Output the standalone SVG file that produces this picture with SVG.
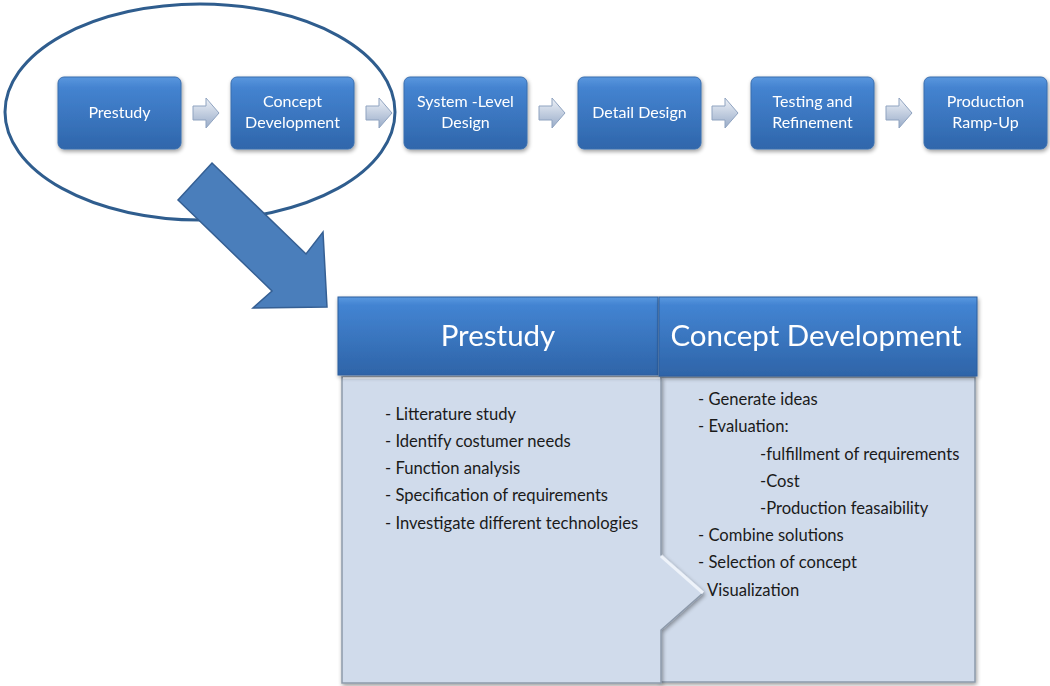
<svg xmlns="http://www.w3.org/2000/svg" width="1050" height="686" viewBox="0 0 1050 686">
<defs>
<linearGradient id="gBox" x1="0" y1="0" x2="0" y2="1">
<stop offset="0" stop-color="#5a97de"/>
<stop offset="0.15" stop-color="#4483d0"/>
<stop offset="1" stop-color="#2f66ab"/>
</linearGradient>
<linearGradient id="gHead" x1="0" y1="0" x2="0" y2="1">
<stop offset="0" stop-color="#5b99e0"/>
<stop offset="0.1" stop-color="#4384d2"/>
<stop offset="1" stop-color="#2e64a8"/>
</linearGradient>
<linearGradient id="gSmall" x1="0" y1="0" x2="0" y2="1">
<stop offset="0" stop-color="#eef2f8"/>
<stop offset="1" stop-color="#98abc8"/>
</linearGradient>
<filter id="sh" x="-10%" y="-10%" width="130%" height="130%">
<feGaussianBlur in="SourceAlpha" stdDeviation="2"/>
<feOffset dx="1" dy="2" result="b"/>
<feComponentTransfer><feFuncA type="linear" slope="0.4"/></feComponentTransfer>
<feMerge><feMergeNode/><feMergeNode in="SourceGraphic"/></feMerge>
</filter>
</defs>
<style>
.box{fill:url(#gBox);stroke:#3b6fae;stroke-width:1}
.bt{font-family:Lato,"Liberation Sans",sans-serif;font-size:16px;fill:#ffffff;text-anchor:middle}
.sa{fill:url(#gSmall);stroke:#8fa3c0;stroke-width:1}
.head{fill:url(#gHead);stroke:#2d5f9e;stroke-width:1}
.ht{font-family:Lato,"Liberation Sans",sans-serif;font-size:29.5px;fill:#ffffff;text-anchor:middle}
.body{fill:#d0dbeb;stroke:#8d9aab;stroke-width:1.5}
.it{font-family:Lato,"Liberation Sans",sans-serif;font-size:16.6px;fill:#1a1a1a}
</style>
<rect width="1050" height="686" fill="#ffffff"/>

<!-- ellipse -->
<ellipse cx="200" cy="112" rx="195" ry="108" fill="none" stroke="#2f5d8e" stroke-width="3"/>

<!-- top nodes -->
<g id="n1" filter="url(#sh)"><rect class="box" x="58" y="77" width="123" height="72" rx="6"/><text class="bt" x="119.5" y="118">Prestudy</text></g>
<g id="n2" filter="url(#sh)"><rect class="box" x="231" y="77" width="123" height="72" rx="6"/><text class="bt" x="292.5" y="107">Concept</text><text class="bt" x="292.5" y="128">Development</text></g>
<g id="n3" filter="url(#sh)"><rect class="box" x="404" y="77" width="123" height="72" rx="6"/><text class="bt" x="465.5" y="107">System -Level</text><text class="bt" x="465.5" y="128">Design</text></g>
<g id="n4" filter="url(#sh)"><rect class="box" x="578" y="77" width="123" height="72" rx="6"/><text class="bt" x="639.5" y="118">Detail Design</text></g>
<g id="n5" filter="url(#sh)"><rect class="box" x="751" y="77" width="123" height="72" rx="6"/><text class="bt" x="812.5" y="107">Testing and</text><text class="bt" x="812.5" y="128">Refinement</text></g>
<g id="n6" filter="url(#sh)"><rect class="box" x="924" y="77" width="123" height="72" rx="6"/><text class="bt" x="985.5" y="107">Production</text><text class="bt" x="985.5" y="128">Ramp-Up</text></g>

<!-- connectors -->
<g id="connectors">
<path class="sa" d="M193,106 H206 V98 L219,113 L206,128 V120 H193 Z"/>
<path class="sa" d="M366,106 H379 V98 L392,113 L379,128 V120 H366 Z"/>
<path class="sa" d="M539,106 H552 V98 L565,113 L552,128 V120 H539 Z"/>
<path class="sa" d="M712,106 H725 V98 L738,113 L725,128 V120 H712 Z"/>
<path class="sa" d="M886,106 H899 V98 L912,113 L899,128 V120 H886 Z"/>
<path d="M212,163 L306,254 L323,232 L327,307 L253,308 L272,291 L178,200 Z" fill="#4a7ebb" stroke="#355f93" stroke-width="1.5"/>
</g>

<!-- bottom panel -->
<g id="concept-body" filter="url(#sh)">
<rect class="body" x="660" y="377" width="315" height="305"/>
</g>
<g id="prestudy-body" filter="url(#sh)">
<path class="body" d="M342,377 H661 V555 L703,593 L661,630 V683 H342 Z"/>
<path d="M661,556 L703,593" stroke="#eef3fa" stroke-width="3" fill="none"/>
<path d="M343,378 H660" stroke="#eef3fa" stroke-width="2" fill="none"/>
</g>
<g id="prestudy-head" filter="url(#sh)">
<rect class="head" x="338" y="297" width="320" height="78"/>
<text class="ht" x="498" y="346">Prestudy</text>
</g>
<g id="concept-head" filter="url(#sh)">
<rect class="head" x="659" y="297" width="318" height="79"/>
<text class="ht" x="816" y="346">Concept Development</text>
</g>

<g id="prestudy-items">
<text class="it" x="385" y="420">- Litterature study</text>
<text class="it" x="385" y="447">- Identify costumer needs</text>
<text class="it" x="385" y="474">- Function analysis</text>
<text class="it" x="385" y="501">- Specification of requirements</text>
<text class="it" x="385" y="529">- Investigate different technologies</text>
</g>
<g id="concept-items">
<text class="it" x="698" y="405">- Generate  ideas</text>
<text class="it" x="698" y="432">- Evaluation:</text>
<text class="it" x="760" y="460">-fulfillment of requirements</text>
<text class="it" x="760" y="487">-Cost</text>
<text class="it" x="760" y="514">-Production feasaibility</text>
<text class="it" x="698" y="541">- Combine solutions</text>
<text class="it" x="698" y="568">- Selection of concept</text>
<text class="it" x="707" y="596">Visualization</text>
</g>
</svg>
